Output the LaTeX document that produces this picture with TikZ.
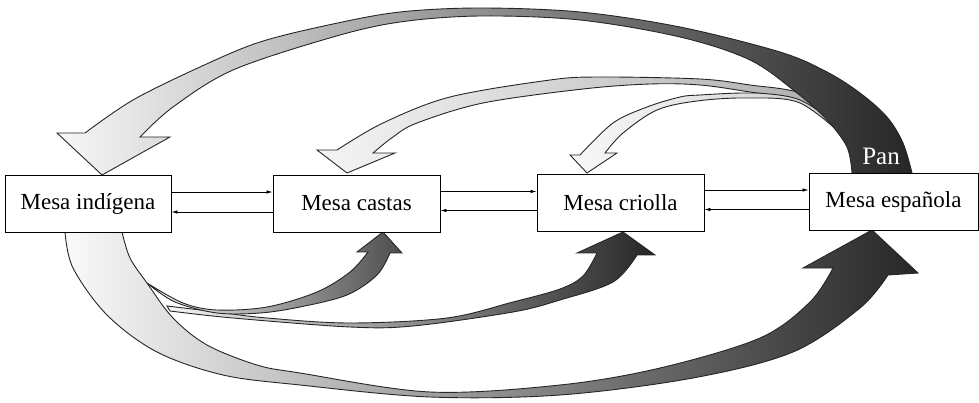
\documentclass[tikz,border=0pt]{standalone}
\usepackage{fontspec}
\setmainfont{Liberation Serif}
\usetikzlibrary{arrows.meta}
\begin{document}
\begin{tikzpicture}[x=1pt,y=-1pt,
  box/.style={draw, line width=0.9pt, fill=white, inner sep=0pt, minimum height=57pt, font=\fontsize{23}{25}\selectfont},
  thinarr/.style={line width=0.7pt, -{Latex[length=6pt,width=3.5pt]}},
  big/.style={draw=black!85, line width=0.9pt, line join=miter},
  edge/.style={smooth, tension=0.55}]
\useasboundingbox (0,0) rectangle (979,403);

% ---- top arrows (from Mesa espanola) ----
\shadedraw[big, left color=gray!5, right color=gray!40]
  plot[edge] coordinates {(845,132) (800,97) (750,93) (700,95) (680,97) (647,107) (613,123) (580,155)}
  -- (570,155) -- (587,173) -- (617,153) -- (605,153)
  -- plot[edge] coordinates {(605,153) (623,133) (657,110) (697,101) (747,98) (800,103) (848,140)} -- cycle;

\shadedraw[big, left color=gray!8, right color=gray!65]
  plot[edge] coordinates {(845,118) (800,93) (750,85) (700,79) (600,77) (550,80) (450,97) (383,123) (337,150)}
  -- (317,150) -- (347,173) -- (395,153) -- (373,153)
  -- plot[edge] coordinates {(373,153) (393,137) (417,123) (483,103) (583,89) (650,84) (700,85) (750,92) (800,100) (848,132)} -- cycle;

\shadedraw[big, left color=blue!3!gray!6, middle color=gray!20, right color=black!85]
  plot[edge] coordinates {(912,173) (903,143) (887,117) (860,93) (827,72) (780,52) (680,27) (580,12) (480,8) (400,12) (333,24) (260,42) (200,67) (133,100) (85,133)}
  -- (57,133) -- (102,175) -- (170,137) -- (140,137)
  -- plot[edge] coordinates {(140,137) (173,107) (233,70) (333,37) (400,22) (480,16) (580,20) (680,37) (750,60) (797,93) (827,120) (847,147) (852,173)} -- cycle;

\node[text=white, font=\fontsize{25}{27}\selectfont] (pan) at (881,156) {Pan};

% ---- bottom arrows (from Mesa indigena) ----
\shadedraw[big, left color=blue!3!gray!4, middle color=gray!25, right color=black!85]
  plot[edge] coordinates {(65,232) (73,268) (107,315) (157,352) (223,375) (300,385) (430,397) (560,395) (693,378) (793,352) (860,308) (888,275)}
  -- (918,273) -- (872,230) -- (803,268) -- (833,268)
  -- plot[edge] coordinates {(833,268) (810,302) (760,338) (660,368) (560,385) (430,392) (300,373) (257,365) (207,345) (173,318) (147,283) (130,258) (122,232)} -- cycle;

\shadedraw[big, left color=gray!8, middle color=gray!40, right color=black!85]
  plot[edge] coordinates {(167,306) (217,312) (267,318) (350,323) (447,318) (513,302) (560,289) (583,276) (597,253)}
  -- (577,253) -- (623,232) -- (655,255) -- (637,255)
  -- plot[edge] coordinates {(637,255) (613,282) (560,300) (513,312) (413,326) (350,327) (233,318) (170,311)} -- cycle;

\shadedraw[big, left color=gray!8, right color=black!70]
  plot[edge] coordinates {(147,283) (183,303) (217,310) (267,307) (317,292) (350,272) (368,252)}
  -- (357,252) -- (383,232) -- (402,253) -- (390,253)
  -- plot[edge] coordinates {(390,253) (377,275) (347,295) (300,307) (260,313) (217,313) (175,302) (147,283)} -- cycle;

% ---- boxes ----
\node[box, minimum width=166pt] (ind) at (88,203.5) {Mesa indígena};
\node[box, minimum width=167pt] (cas) at (356.5,203.5) {Mesa castas};
\node[box, minimum width=167pt] (cri) at (620.5,202.5) {Mesa criolla};
\node[box, minimum width=169pt] (esp) at (893.5,201.5) {Mesa española};

% ---- thin exchange arrows ----
\draw[thinarr] ([yshift=11.5pt]ind.east) -- ([yshift=11.5pt]ind.east -| cas.west);
\draw[thinarr] ([yshift=-8.5pt]cas.west) -- ([yshift=-8.5pt]cas.west -| ind.east);
\draw[thinarr] ([yshift=12pt]cas.east) -- ([yshift=12pt]cas.east -| cri.west);
\draw[thinarr] ([yshift=-8pt]cri.west) -- ([yshift=-8pt]cri.west -| cas.east);
\draw[thinarr] ([yshift=12.5pt]cri.east) -- ([yshift=12.5pt]cri.east -| esp.west);
\draw[thinarr] ([yshift=-8pt]esp.west) -- ([yshift=-8pt]esp.west -| cri.east);
\end{tikzpicture}
\end{document}
